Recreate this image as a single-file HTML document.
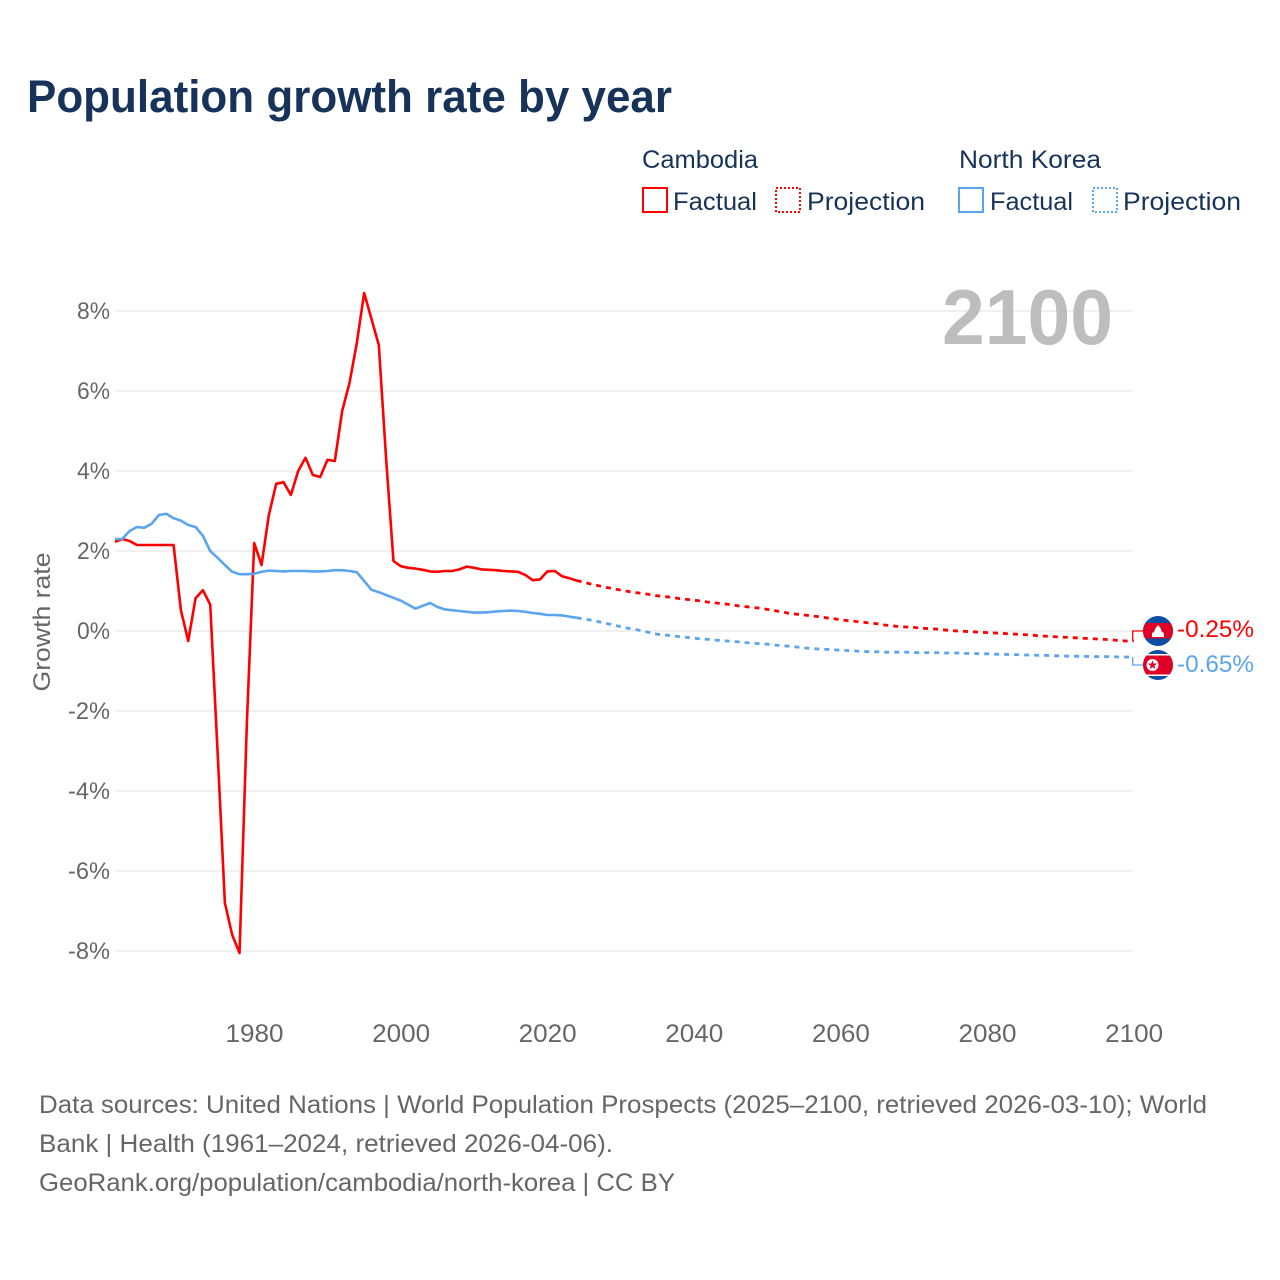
<!DOCTYPE html>
<html lang="en">
<head>
<meta charset="utf-8">
<title>Population growth rate by year</title>
<style>
html,body{margin:0;padding:0;background:#fff}
svg{display:block}
text{font-family:"Liberation Sans",sans-serif}
</style>
</head>
<body>
<svg id="chart" width="1280" height="1280" viewBox="0 0 1280 1280" xmlns="http://www.w3.org/2000/svg">
  <rect width="1280" height="1280" fill="#fff"/>
  <text x="27" y="112" font-size="45" font-weight="700" fill="#17335a" textLength="645" lengthAdjust="spacingAndGlyphs">Population growth rate by year</text>

  <g font-size="25" fill="#17335a">
    <text x="642" y="168" textLength="116" lengthAdjust="spacingAndGlyphs">Cambodia</text>
    <text x="959" y="168" textLength="142" lengthAdjust="spacingAndGlyphs">North Korea</text>
    <g>
      <rect x="643" y="188" width="24" height="24" fill="none" stroke="#ff0000" stroke-width="2"/>
      <text x="673" y="210" textLength="84" lengthAdjust="spacingAndGlyphs">Factual</text>
    </g>
    <g>
      <rect x="776" y="188" width="24" height="24" fill="none" stroke="#ff0000" stroke-width="2" stroke-dasharray="2 2"/>
      <text x="807" y="210" textLength="118" lengthAdjust="spacingAndGlyphs">Projection</text>
    </g>
    <g>
      <rect x="959" y="188" width="24" height="24" fill="none" stroke="#5ba4ee" stroke-width="2"/>
      <text x="990" y="210" textLength="83" lengthAdjust="spacingAndGlyphs">Factual</text>
    </g>
    <g>
      <rect x="1093" y="188" width="24" height="24" fill="none" stroke="#5ba4ee" stroke-width="2" stroke-dasharray="2 2"/>
      <text x="1123" y="210" textLength="118" lengthAdjust="spacingAndGlyphs">Projection</text>
    </g>
  </g>

  <g id="grid"></g>
  <g id="yticks"></g>
  <g id="xticks"></g>
  <text transform="translate(50,622) rotate(-90)" text-anchor="middle" font-size="24" fill="#666" textLength="139" lengthAdjust="spacingAndGlyphs">Growth rate</text>

  <text x="1113" y="344" text-anchor="end" font-size="78" font-weight="700" fill="#bdbdbd" textLength="171" lengthAdjust="spacingAndGlyphs">2100</text>

  <g id="series"></g>

  <g>
    <clipPath id="clip-kh"><circle cx="1158" cy="631" r="15"/></clipPath>
    <g clip-path="url(#clip-kh)">
      <rect x="1143" y="616" width="30" height="30" fill="#0b4ea2"/>
      <rect x="1143" y="623" width="30" height="15.5" fill="#e00025"/>
      <path d="M1152 637v-4l2-1 1.5-4 2.5-3 2.5 3 1.5 4 2 1v4z" fill="#fff"/>
    </g>
  </g>
  <g>
    <clipPath id="clip-kp"><circle cx="1158" cy="665" r="15"/></clipPath>
    <g clip-path="url(#clip-kp)">
      <rect x="1143" y="650" width="30" height="30" fill="#0b4ea2"/>
      <rect x="1143" y="654" width="30" height="22" fill="#fff"/>
      <rect x="1143" y="655.5" width="30" height="19" fill="#e00025"/>
      <circle cx="1152.5" cy="665" r="6" fill="#fff"/>
      <path d="M1152.5 660.2l1.2 3.3 3.4.1-2.7 2.1 1 3.3-2.9-1.9-2.9 1.9 1-3.3-2.7-2.1 3.4-.1z" fill="#e00025"/>
    </g>
  </g>
  <text x="1177" y="637" font-size="24" fill="#ff0000" textLength="77" lengthAdjust="spacingAndGlyphs">-0.25%</text>
  <text x="1177" y="672" font-size="24" fill="#5ba4ee" textLength="77" lengthAdjust="spacingAndGlyphs">-0.65%</text>

  <g font-size="25" fill="#666">
    <text x="39" y="1113" textLength="1168" lengthAdjust="spacingAndGlyphs">Data sources: United Nations | World Population Prospects (2025–2100, retrieved 2026-03-10); World</text>
    <text x="39" y="1152" textLength="574" lengthAdjust="spacingAndGlyphs">Bank | Health (1961–2024, retrieved 2026-04-06).</text>
    <text x="39" y="1191" textLength="636" lengthAdjust="spacingAndGlyphs">GeoRank.org/population/cambodia/north-korea | CC BY</text>
  </g>
</svg>
<script>
const yTickValues = [8, 6, 4, 2, 0, -2, -4, -6, -8];
const xTickValues = [1980, 2000, 2020, 2040, 2060, 2080, 2100];
const factualStartYear = 1961;
const projectionStartYear = 2024;
const cambodiaFactual = [2.23,2.30,2.25,2.15,2.15,2.15,2.15,2.15,2.15,0.52,-0.25,0.82,1.02,0.66,-3.0,-6.8,-7.6,-8.05,-2.3,2.2,1.65,2.9,3.68,3.72,3.4,4.0,4.33,3.9,3.85,4.28,4.25,5.5,6.2,7.2,8.45,7.8,7.15,4.3,1.75,1.62,1.58,1.56,1.53,1.49,1.48,1.5,1.5,1.54,1.61,1.58,1.54,1.53,1.52,1.5,1.49,1.48,1.4,1.27,1.29,1.49,1.5,1.37,1.32,1.26];
const cambodiaProjection = [1.26,1.22,1.17,1.13,1.09,1.06,1.02,0.99,0.96,0.94,0.91,0.88,0.86,0.84,0.81,0.79,0.77,0.75,0.72,0.7,0.68,0.66,0.63,0.61,0.59,0.57,0.54,0.51,0.48,0.44,0.42,0.4,0.38,0.36,0.33,0.31,0.28,0.26,0.24,0.22,0.2,0.18,0.15,0.13,0.11,0.1,0.09,0.07,0.06,0.05,0.03,0.01,0,-0.01,-0.02,-0.03,-0.04,-0.05,-0.06,-0.07,-0.08,-0.09,-0.1,-0.12,-0.13,-0.14,-0.15,-0.16,-0.17,-0.18,-0.19,-0.2,-0.21,-0.22,-0.24,-0.25,-0.25];
const northKoreaFactual = [2.3,2.3,2.5,2.6,2.58,2.68,2.9,2.93,2.82,2.76,2.65,2.6,2.38,2.0,1.83,1.65,1.48,1.42,1.42,1.43,1.48,1.51,1.5,1.49,1.5,1.5,1.5,1.49,1.49,1.5,1.52,1.52,1.5,1.47,1.25,1.03,0.97,0.9,0.83,0.76,0.66,0.56,0.63,0.7,0.6,0.54,0.52,0.5,0.48,0.46,0.46,0.47,0.49,0.5,0.51,0.5,0.48,0.45,0.43,0.4,0.4,0.39,0.36,0.33];
const northKoreaProjection = [0.33,0.3,0.27,0.23,0.19,0.15,0.11,0.07,0.04,0.0,-0.04,-0.08,-0.1,-0.12,-0.14,-0.16,-0.18,-0.2,-0.21,-0.23,-0.24,-0.26,-0.27,-0.29,-0.3,-0.32,-0.33,-0.35,-0.37,-0.38,-0.4,-0.42,-0.44,-0.45,-0.46,-0.47,-0.48,-0.49,-0.5,-0.51,-0.52,-0.52,-0.53,-0.53,-0.53,-0.53,-0.54,-0.54,-0.54,-0.54,-0.55,-0.55,-0.55,-0.56,-0.56,-0.57,-0.57,-0.58,-0.58,-0.59,-0.59,-0.6,-0.6,-0.61,-0.61,-0.62,-0.62,-0.63,-0.63,-0.63,-0.64,-0.64,-0.64,-0.64,-0.65,-0.65,-0.65];

const SVG_NS = 'http://www.w3.org/2000/svg';
const plotLeft = 115;
const plotRight = 1133;
function xScale(year) { return 254.2 + (year - 1980) * 7.33; }
function yScale(value) { return 631 - value * 40; }

const gridGroup = document.getElementById('grid');
const yTickGroup = document.getElementById('yticks');
const xTickGroup = document.getElementById('xticks');
const seriesGroup = document.getElementById('series');

yTickValues.forEach(function (v) {
  const line = document.createElementNS(SVG_NS, 'line');
  line.setAttribute('x1', plotLeft);
  line.setAttribute('x2', plotRight);
  line.setAttribute('y1', yScale(v));
  line.setAttribute('y2', yScale(v));
  line.setAttribute('stroke', '#ebebeb');
  line.setAttribute('stroke-width', '1.5');
  
  
  gridGroup.appendChild(line);

  const label = document.createElementNS(SVG_NS, 'text');
  label.setAttribute('x', 110);
  label.setAttribute('y', yScale(v) + 8);
  label.setAttribute('text-anchor', 'end');
  label.setAttribute('font-size', '24');
  label.setAttribute('fill', '#666');
  label.setAttribute('textLength', v < 0 ? 42 : 33);
  label.setAttribute('lengthAdjust', 'spacingAndGlyphs');
  label.textContent = v + '%';
  
  
  yTickGroup.appendChild(label);
});

xTickValues.forEach(function (year) {
  const label = document.createElementNS(SVG_NS, 'text');
  label.setAttribute('x', xScale(year) + 0.3);
  label.setAttribute('y', 1042);
  label.setAttribute('text-anchor', 'middle');
  label.setAttribute('font-size', '25');
  label.setAttribute('fill', '#666');
  label.setAttribute('textLength', 58);
  label.setAttribute('lengthAdjust', 'spacingAndGlyphs');
  label.textContent = String(year);
  
  
  xTickGroup.appendChild(label);
});

function linePath(values, startYear) {
  return values.map(function (v, i) {
    return (i ? 'L' : 'M') + xScale(startYear + i).toFixed(2) + ' ' + yScale(v).toFixed(2);
  }).join('');
}

function addSeries(values, startYear, color, dashed, name) {
  const path = document.createElementNS(SVG_NS, 'path');
  path.setAttribute('d', linePath(values, startYear));
  path.setAttribute('fill', 'none');
  path.setAttribute('stroke', color);
  path.setAttribute('stroke-width', dashed ? '2.8' : '2.6');
  path.setAttribute('stroke-linejoin', 'round');
  if (dashed) path.setAttribute('stroke-dasharray', '5 5');
  
  
  seriesGroup.appendChild(path);
}

function addLeader(lastValue, flagY, color, name) {
  const y = yScale(lastValue);
  const path = document.createElementNS(SVG_NS, 'path');
  path.setAttribute('d', 'M1132.7 ' + y + 'V' + flagY + 'H1143');
  path.setAttribute('fill', 'none');
  path.setAttribute('stroke', color);
  path.setAttribute('stroke-width', '1.3');
  
  
  seriesGroup.appendChild(path);
}

addSeries(northKoreaProjection, projectionStartYear, '#5ba4ee', true, 'north-korea-projection-line');
addSeries(cambodiaProjection, projectionStartYear, '#ff0000', true, 'cambodia-projection-line');
addSeries(cambodiaFactual, factualStartYear, '#ff0000', false, 'cambodia-factual-line');
addSeries(northKoreaFactual, factualStartYear, '#5ba4ee', false, 'north-korea-factual-line');
addLeader(cambodiaProjection[cambodiaProjection.length - 1], 631, '#ff0000', 'cambodia-leader-line');
addLeader(northKoreaProjection[northKoreaProjection.length - 1], 665, '#5ba4ee', 'north-korea-leader-line');
</script>
</body>
</html>
